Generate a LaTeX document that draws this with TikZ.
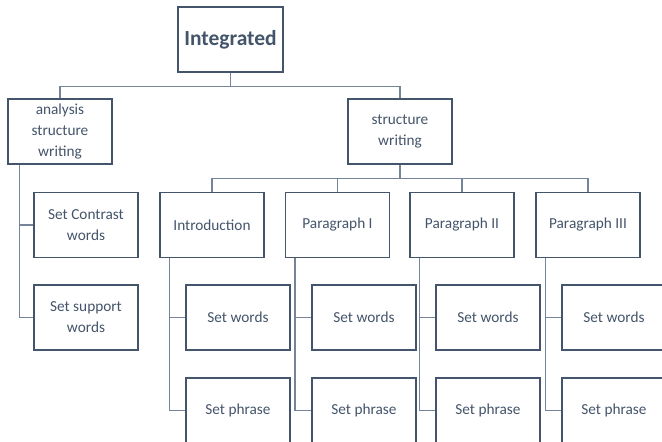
\documentclass[tikz,border=0pt]{standalone}
\usepackage{fontspec}
\setmainfont{Carlito}
\usepackage{xcolor}
\usepackage{tikz}
\usetikzlibrary{positioning, calc}

\definecolor{boxline}{HTML}{44546A}
\definecolor{linkline}{HTML}{76849A}
\definecolor{boxtext}{HTML}{44546A}

\begin{document}
\begin{tikzpicture}[x=1pt, y=1pt,
        box/.style={rectangle, draw=boxline, line width=1.2pt, minimum width=104pt,
          minimum height=65pt, inner sep=2pt, align=center, text=boxtext,
          font=\fontsize{15.3}{21}\selectfont},
        link/.style={draw=linkline, line width=1.8pt}]
        \useasboundingbox (0,0) rectangle (662,442);

        \node[box, minimum width=105pt, font=\fontsize{21.5}{25}\selectfont\bfseries] (root) at (230.5,402.5) {Integrated};
        \node[box] (analysis) at (60,310.5) {analysis\\structure\\writing};
        \node[box] (structure) at (400,310.5) {structure\\writing};

        \node[box] (contrast) at (86,217) {Set Contrast\\words};
        \node[box] (support) at (86,124.5) {Set support\\words};

        \node[box] (intro) at (212,217) {Introduction};
        \node[box] (para1) at (337.5,217) {Paragraph I};
        \node[box] (para2) at (462,217) {Paragraph II};
        \node[box] (para3) at (588,217) {Paragraph III};

        \node[box] (introw) at (238,124.5) {Set words};
        \node[box] (introp) at (238,31.5) {Set phrase};
        \node[box] (para1w) at (364,124.5) {Set words};
        \node[box] (para1p) at (364,31.5) {Set phrase};
        \node[box] (para2w) at (488,124.5) {Set words};
        \node[box] (para2p) at (488,31.5) {Set phrase};
        \node[box] (para3w) at (614,124.5) {Set words};
        \node[box] (para3p) at (614,31.5) {Set phrase};

        \draw[link] (root.south) -- ++(0,-14) -| (analysis.north);
        \draw[link] (root.south) -- ++(0,-14) -| (structure.north);

        \draw[link] (structure.south) -- ++(0,-14) -| (intro.north);
        \draw[link] (structure.south) -- ++(0,-14) -| (para1.north);
        \draw[link] (structure.south) -- ++(0,-14) -| (para2.north);
        \draw[link] (structure.south) -- ++(0,-14) -| (para3.north);

        \draw[link] ([xshift=12pt]analysis.south west) |- (contrast.west);
        \draw[link] ([xshift=12pt]analysis.south west) |- (support.west);

        \draw[link] ([xshift=10pt]intro.south west) |- (introw.west);
        \draw[link] ([xshift=10pt]intro.south west) |- (introp.west);
        \draw[link] ([xshift=10pt]para1.south west) |- (para1w.west);
        \draw[link] ([xshift=10pt]para1.south west) |- (para1p.west);
        \draw[link] ([xshift=10pt]para2.south west) |- (para2w.west);
        \draw[link] ([xshift=10pt]para2.south west) |- (para2p.west);
        \draw[link] ([xshift=10pt]para3.south west) |- (para3w.west);
        \draw[link] ([xshift=10pt]para3.south west) |- (para3p.west);
      \end{tikzpicture}
\end{document}
